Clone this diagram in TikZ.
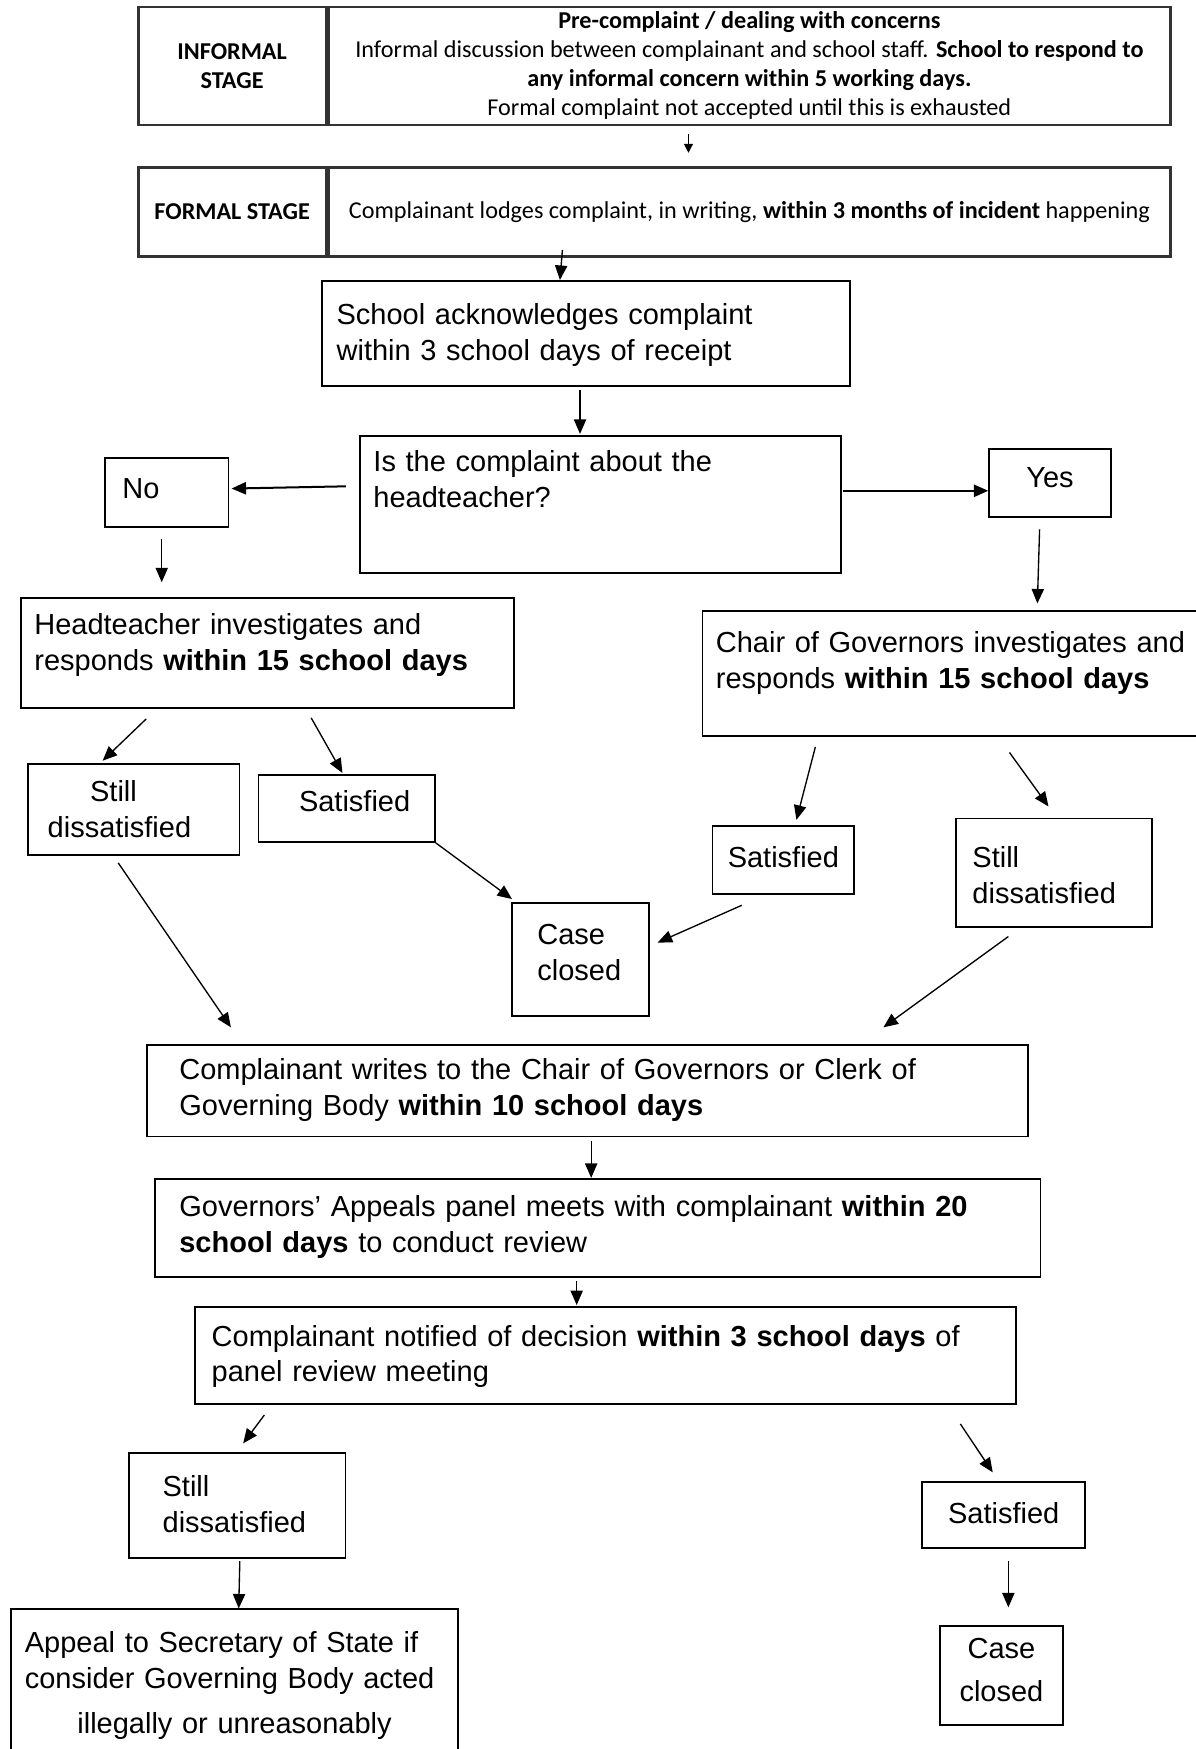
\documentclass[tikz,border=0pt]{standalone}
\usepackage{fontspec}
\setmainfont{Liberation Sans}
\newfontfamily\calibrifont{Carlito}
\usetikzlibrary{arrows.meta,calc,positioning}

\tikzset{
  stagebox/.style={draw=black!80, line width=1.1pt, anchor=north west, inner sep=0pt,
    font=\calibrifont\fontsize{10.85}{13}\selectfont},
  flowbox/.style={draw, line width=0.8pt, anchor=north west, inner ysep=0pt, align=left,
    font=\fontsize{13}{16}\selectfont},
  vsz/.style 2 args={text height=#1pt, text depth=#2pt},
  arr/.style={-{Triangle[length=6.5pt,width=5.5pt]}, line width=0.6pt},
}

\begin{document}
\begin{tikzpicture}[x=0.5pt,y=-0.5pt]
\clip (0,0) rectangle (1072,1568);
\fill[white] (0,0) rectangle (1072,1568);

% stages
\node[stagebox, minimum width=84pt, minimum height=53pt, align=center] (inflab) at (123,5) {\textbf{INFORMAL}\\\textbf{STAGE}};
\node[stagebox, minimum width=377.5pt, minimum height=53pt, align=center] (inftxt) at (inflab.north east) {\textbf{Pre-complaint / dealing with concerns}\\Informal discussion between complainant and school staff. \textbf{School to respond to}\\\textbf{any informal concern within 5 working days.}\\Formal complaint not accepted until this is exhausted};
\node[stagebox, minimum width=84pt, minimum height=40pt] (forlab) at (123,149) {\textbf{FORMAL STAGE}};
\node[stagebox, minimum width=377.5pt, minimum height=40pt] (fortxt) at (forlab.north east) {Complainant lodges complaint, in writing, \textbf{within 3 months of incident} happening};

% flow
\node[flowbox, vsz={19.5}{27.5}, text width=223.5pt, inner xsep=6.5pt] (ack) at (288,251) {School acknowledges complaint\\within 3 school days of receipt};
\node[flowbox, vsz={16}{45.5}, text width=203.5pt, inner xsep=6pt] (quest) at (322,390) {Is the complaint about the\\headteacher?};
\node[flowbox, vsz={18}{13}, text width=39.5pt, inner xsep=8pt] (no) at (93,410) {No};
\node[flowbox, vsz={17}{13.5}, text width=46.5pt, inner xsep=4pt, align=center] (yes) at (886,402) {Yes};
\node[flowbox, vsz={16.5}{33}, text width=209pt, inner xsep=6pt] (hdt) at (18,535) {Headteacher investigates and\\responds \textbf{within 15 school days}};
\node[flowbox, vsz={18.5}{37.5}, text width=228pt, inner xsep=6pt] (chair) at (629,547) {Chair of Governors investigates and\\responds \textbf{within 15 school days}};

\node[flowbox, vsz={17}{24}, text width=77pt, inner xsep=9pt] (still1) at (24,684) {\hspace*{19pt}Still\\dissatisfied};
\node[flowbox, vsz={16.5}{13.5}, text width=57pt, inner xsep=11pt, align=right] (sat1) at (231,694) {Satisfied};
\node[flowbox, vsz={18.5}{32}, text width=38.5pt, inner xsep=11.5pt] (case1) at (458,809) {Case\\closed};
\node[flowbox, vsz={18.5}{12}, text width=55.5pt, inner xsep=4pt, align=center] (sat2) at (638,740) {Satisfied};
\node[flowbox, vsz={22}{26.5}, text width=73pt, inner xsep=7.5pt] (still2) at (856,733) {Still\\dissatisfied};

\node[flowbox, vsz={15.5}{25.5}, text width=366pt, inner xsep=14.5pt] (writes) at (131,936) {Complainant writes to the Chair of Governors or Clerk of\\Governing Body \textbf{within 10 school days}};
\node[flowbox, vsz={17}{27}, text width=375pt, inner xsep=11pt] (panel) at (138,1056) {Governors’ Appeals panel meets with complainant \textbf{within 20}\\\textbf{school days} to conduct review};
\node[flowbox, vsz={17.5}{26}, text width=353pt, inner xsep=7.5pt] (notif) at (174,1171) {Complainant notified of decision \textbf{within 3 school days} of\\panel review meeting};

\node[flowbox, vsz={19.5}{27.5}, text width=67pt, inner xsep=15pt] (still3) at (115,1302) {Still\\dissatisfied};
\node[flowbox, vsz={19.5}{59.5}, text width=188pt, inner xsep=6.25pt] (appeal) at (9,1442) {Appeal to Secretary of State if\\consider Governing Body acted\\[4pt]\makebox[\linewidth]{illegally or unreasonably}};
\node[flowbox, vsz={18.5}{11}, text width=65pt, inner xsep=4pt, align=center] (sat3) at (826,1328) {Satisfied};
\node[flowbox, vsz={14.5}{30}, text width=45pt, inner xsep=5pt, align=center] (case3) at (842,1457) {Case\\[3.5pt]closed};

% connectors
\draw[arr, -{Triangle[length=4pt,width=4pt]}] ($(inftxt.south west)+(324,7)$) -- ($(fortxt.north west)+(324,-12)$);
\draw[arr] ($(fortxt.south west)+(211,-7)$) -- ($(ack.north west)+(214,0)$);
\draw[arr] ($(ack.south west)+(232,3)$) -- ($(quest.north west)+(198,-1)$);
\draw[arr, line width=0.9pt] ($(quest.north west)+(-12,46)$) -- ($(no.north east)+(2,28)$);
\draw[arr, line width=0.9pt] ($(quest.north east)+(1,50)$) -- ($(yes.north west)+(0,38)$);
\draw[arr] ($(no.south west)+(52,10)$) -- ($(hdt.north west)+(127,-13)$);
\draw[arr] ($(yes.south west)+(46,10)$) -- ($(chair.north west)+(301,-6)$);
\draw[arr] ($(hdt.south west)+(113,9)$) -- ($(still1.north west)+(68,-2)$);
\draw[arr] ($(hdt.south west)+(261,8)$) -- ($(sat1.north west)+(76,-1)$);
\draw[arr] (sat1.south east) -- ($(case1.north west)+(1,-3)$);
\draw[arr] ($(chair.south west)+(102,9)$) -- ($(sat2.north west)+(76,-5)$);
\draw[arr] ($(chair.south west)+(276,14)$) -- ($(still2.north west)+(84,-10)$);
\draw[arr] ($(sat2.south west)+(27,9)$) -- ($(case1.north east)+(7,36)$);
\draw[arr] ($(still1.south west)+(82,6)$) -- ($(writes.north west)+(76,-15)$);
\draw[arr] ($(still2.south west)+(48,8)$) -- ($(writes.north west)+(661,-15)$);
\draw[arr] ($(writes.south west)+(399,3)$) -- ($(panel.north west)+(392,0)$);
\draw[arr] ($(panel.south west)+(379,3)$) -- ($(notif.north west)+(343,-1)$);
\draw[arr] ($(notif.south west)+(63,9)$) -- ($(still3.north west)+(103,-8)$);
\draw[arr] ($(notif.south west)+(687,17)$) -- ($(sat3.north west)+(64,-8)$);
\draw[arr] ($(still3.south west)+(100,2)$) -- ($(appeal.north west)+(205,0)$);
\draw[arr] ($(sat3.south west)+(78,11)$) -- ($(case3.north west)+(62,-16)$);
\end{tikzpicture}
\end{document}
